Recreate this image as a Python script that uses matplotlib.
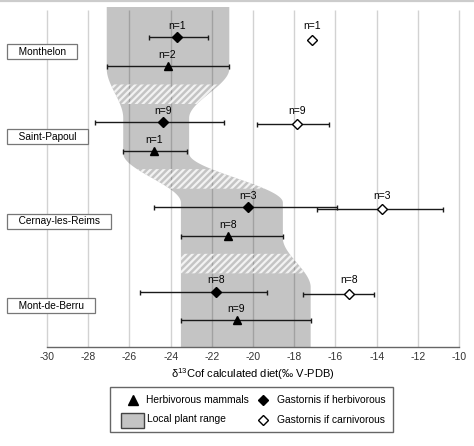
import numpy as np
import matplotlib
matplotlib.use("Agg")
import matplotlib.pyplot as plt
from matplotlib.patches import Rectangle
from matplotlib.lines import Line2D
from matplotlib.transforms import blended_transform_factory

plt.rcParams['font.family'] = ['Liberation Sans', 'DejaVu Sans']
plt.rcParams['mathtext.fontset'] = 'custom'
plt.rcParams['mathtext.rm'] = 'Liberation Sans'
plt.rcParams['axes.unicode_minus'] = False
plt.rcParams['hatch.linewidth'] = 1.6

# sites, bottom to top
sites = ["Mont-de-Berru", "Cernay-les-Reims", "Saint-Papoul", "Monthelon"]

# local plant range (d13C, per mil)
plant_lo = [-23.5, -23.5, -26.3, -27.1]
plant_hi = [-17.2, -18.55, -23.1, -21.15]

# herbivorous mammals
mammal_mean = [-20.8, -21.2, -24.8, -24.15]
mammal_lo = [-23.5, -23.5, -26.3, -27.1]
mammal_hi = [-17.2, -18.55, -23.2, -21.15]
mammal_n = [9, 8, 1, 2]

# Gastornis if herbivorous
herb_mean = [-21.8, -20.25, -24.35, -23.7]
herb_lo = [-25.5, -24.8, -27.65, -25.05]
herb_hi = [-19.3, -15.9, -21.4, -22.2]
herb_n = [8, 3, 9, 1]

# Gastornis if carnivorous
carn_mean = [-15.35, -13.75, -17.85, -17.15]
carn_lo = [-17.55, -16.9, -19.8, np.nan]
carn_hi = [-14.15, -10.8, -16.3, np.nan]
carn_n = [8, 3, 9, 1]

xticks = np.arange(-30, -9, 2)

W, H = 474, 446
fig = plt.figure(figsize=(W / 100, H / 100), dpi=100)
ax = fig.add_axes([47 / W, 99 / H, 412 / W, 340 / H])
ybot, ytop = -0.485, 3.53
ax.set_xlim(-30, -10)
ax.set_ylim(ybot, ytop)

def fx(px):
    return px / W

def fy(py):
    return 1 - py / H

ypos = np.arange(len(sites))

# grid
ax.vlines(xticks, 0, 0.99, transform=ax.get_xaxis_transform(),
          colors='#d2d2d2', lw=1, zorder=0.5, clip_on=False)

# plant range band with smooth transitions between sites
yy = np.linspace(ybot, ytop, 800)

def edge(vals):
    out = np.full_like(yy, vals[0], dtype=float)
    for k in range(len(vals) - 1):
        t = np.clip((yy - (k + 0.22)) / 0.58, 0, 1)
        out = out + (vals[k + 1] - vals[k]) * t * t * (3 - 2 * t)
    return out

band_l = edge(plant_lo)
band_r = edge(plant_hi)
ax.fill_betweenx(yy, band_l, band_r, facecolor='black', alpha=0.23, lw=0, zorder=1)
for k in range(len(sites) - 1):
    m = (yy >= k + 0.38) & (yy <= k + 0.62)
    ax.fill_betweenx(yy[m], band_l[m], band_r[m], facecolor='none',
                     edgecolor='#f2f2f2', hatch='/////', lw=0, zorder=1.5)

dy = 0.17
ebkw = dict(ecolor='#1a1a1a', elinewidth=1, capsize=1.8, capthick=1, ls='none', zorder=4)

ax.errorbar(mammal_mean, ypos - dy,
            xerr=[np.subtract(mammal_mean, mammal_lo), np.subtract(mammal_hi, mammal_mean)],
            fmt='^', ms=5.5, color='black', **ebkw)
ax.errorbar(herb_mean, ypos + dy,
            xerr=[np.subtract(herb_mean, herb_lo), np.subtract(herb_hi, herb_mean)],
            fmt='D', ms=4.8, color='black', **ebkw)
ax.errorbar(carn_mean, ypos + dy - 0.025,
            xerr=[np.subtract(carn_mean, carn_lo), np.subtract(carn_hi, carn_mean)],
            fmt='D', ms=4.6, mfc='white', mec='black', mew=1, color='black', **ebkw)

for xs, ys, ns in [(mammal_mean, ypos - dy, mammal_n),
                   (herb_mean, ypos + dy, herb_n),
                   (carn_mean, ypos + dy, carn_n)]:
    for x, y, n in zip(xs, ys, ns):
        ax.annotate(f"n={n}", (x, y), xytext=(0, 8), textcoords='offset points',
                    ha='center', va='center', fontsize=7.5, zorder=5)

# site labels
tr = blended_transform_factory(fig.transFigure, ax.transData)
for y, s in zip(ypos, sites):
    ax.text(fx(10), y, "   " + s + "   ", transform=tr, ha='left', va='center',
            fontsize=7.3, clip_on=False, zorder=6,
            bbox=dict(boxstyle='square,pad=0.25', fc='white', ec='#777777', lw=0.9))

for side in ['top', 'right', 'left']:
    ax.spines[side].set_visible(False)
ax.spines['bottom'].set_color('#666666')
ax.spines['bottom'].set_linewidth(1)
ax.set_xticks(xticks)
ax.set_yticks([])
ax.tick_params(axis='x', length=0, pad=3.4, labelsize=7.5, colors='#333333')
ax.set_xlabel("δ$^{13}$Cof calculated diet(‰ V-PDB)", fontsize=8, labelpad=3.2)

# legend box drawn by hand
fig.add_artist(Rectangle((fx(110), fy(432)), (393 - 110) / W, (432 - 387) / H,
                         transform=fig.transFigure, fc='white', ec='#666666', lw=1))
fig.add_artist(Line2D([fx(133)], [fy(400)], marker='^', ms=7.5, color='black',
                      transform=fig.transFigure))
fig.add_artist(Rectangle((fx(121), fy(428)), 23 / W, 15 / H, transform=fig.transFigure,
                         fc='#c4c4c4', ec='#444444', lw=1))
fig.add_artist(Line2D([fx(263)], [fy(400)], marker='D', ms=5.6, color='black',
                      transform=fig.transFigure))
fig.add_artist(Line2D([fx(263)], [fy(420)], marker='D', ms=5.3, mfc='white',
                      mec='black', mew=1, transform=fig.transFigure))
for px, py, s in [(146, 400, "Herbivorous mammals"), (147, 419, "Local plant range"),
                  (277, 400, "Gastornis if herbivorous"), (277, 420, "Gastornis if carnivorous")]:
    fig.text(fx(px), fy(py), s, ha='left', va='center', fontsize=7.4)

fig.add_artist(Line2D([0, 1], [fy(0.8), fy(0.8)], color='#cccccc', lw=1.6,
                      transform=fig.transFigure))

fig.savefig('out.png', dpi=100)
